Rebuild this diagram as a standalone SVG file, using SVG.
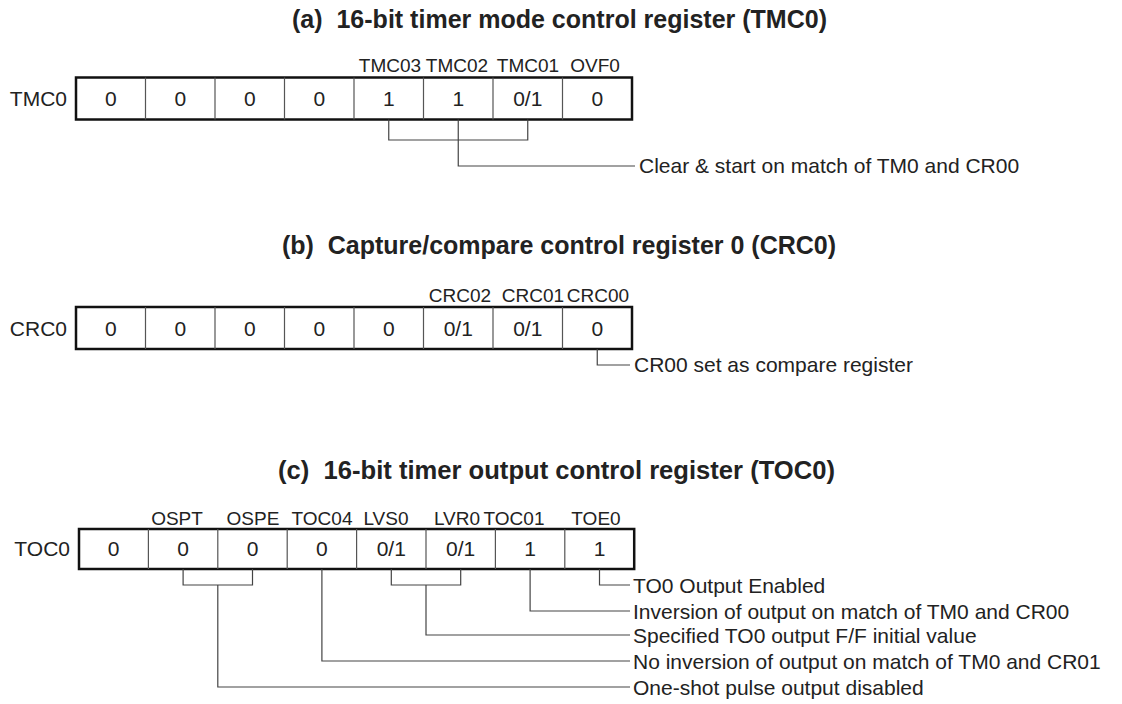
<svg xmlns="http://www.w3.org/2000/svg" width="1122" height="704" viewBox="0 0 1122 704">
<style>
.t{font-family:"Liberation Sans",Arial,sans-serif;font-weight:bold;font-size:25px;fill:#222;white-space:pre}
.v{font-family:"Liberation Sans",Arial,sans-serif;font-size:21px;fill:#222;text-anchor:middle}
.b{font-family:"Liberation Sans",Arial,sans-serif;font-size:19px;fill:#222;text-anchor:middle}
.r{font-family:"Liberation Sans",Arial,sans-serif;font-size:21px;fill:#222;text-anchor:end}
.d{font-family:"Liberation Sans",Arial,sans-serif;font-size:21px;fill:#222}
.box{fill:#fff;stroke:#111;stroke-width:2.5}
.div{stroke:#555;stroke-width:1.2}
.c{fill:none;stroke:#444;stroke-width:1.2}
</style>
<rect width="1122" height="704" fill="#fff"/>

<g id="regA">
<text class="t" xml:space="preserve" x="292" y="28" textLength="535" lengthAdjust="spacingAndGlyphs">(a)  16-bit timer mode control register (TMC0)</text>
<text class="r" x="67" y="106">TMC0</text>
<rect class="box" x="76" y="77.5" width="556" height="42"/>
<path class="div" d="M145.5 77.5V119.5M215 77.5V119.5M284.5 77.5V119.5M354 77.5V119.5M423.5 77.5V119.5M493 77.5V119.5M562.5 77.5V119.5"/>
<text class="b" x="390" y="72">TMC03</text>
<text class="b" x="457" y="72">TMC02</text>
<text class="b" x="528" y="72">TMC01</text>
<text class="b" x="595" y="72">OVF0</text>
<text class="v" x="110.75" y="106">0</text>
<text class="v" x="180.25" y="106">0</text>
<text class="v" x="249.75" y="106">0</text>
<text class="v" x="319.25" y="106">0</text>
<text class="v" x="388.75" y="106">1</text>
<text class="v" x="458.25" y="106">1</text>
<text class="v" x="527.75" y="106">0/1</text>
<text class="v" x="597.25" y="106">0</text>
<text class="d" x="639" y="173">Clear &amp; start on match of TM0 and CR00</text>
</g>

<g id="regB">
<text class="t" xml:space="preserve" x="282" y="254" textLength="554" lengthAdjust="spacingAndGlyphs">(b)  Capture/compare control register 0 (CRC0)</text>
<text class="r" x="67" y="336">CRC0</text>
<rect class="box" x="76" y="307" width="556" height="42"/>
<path class="div" d="M145.5 307V349M215 307V349M284.5 307V349M354 307V349M423.5 307V349M493 307V349M562.5 307V349"/>
<text class="b" x="460" y="302">CRC02</text>
<text class="b" x="533" y="302">CRC01</text>
<text class="b" x="598" y="302">CRC00</text>
<text class="v" x="110.75" y="336">0</text>
<text class="v" x="180.25" y="336">0</text>
<text class="v" x="249.75" y="336">0</text>
<text class="v" x="319.25" y="336">0</text>
<text class="v" x="388.75" y="336">0</text>
<text class="v" x="458.25" y="336">0/1</text>
<text class="v" x="527.75" y="336">0/1</text>
<text class="v" x="597.25" y="336">0</text>
<text class="d" x="634" y="372">CR00 set as compare register</text>
</g>

<g id="regC">
<text class="t" xml:space="preserve" x="278" y="479" textLength="557" lengthAdjust="spacingAndGlyphs">(c)  16-bit timer output control register (TOC0)</text>
<text class="r" x="70" y="556">TOC0</text>
<rect class="box" x="79" y="529" width="555.2" height="40"/>
<path class="div" d="M148.4 529V569M217.8 529V569M287.2 529V569M356.6 529V569M426 529V569M495.4 529V569M564.8 529V569"/>
<text class="b" x="177" y="525">OSPT</text>
<text class="b" x="253" y="525">OSPE</text>
<text class="b" x="322" y="525">TOC04</text>
<text class="b" x="386" y="525">LVS0</text>
<text class="b" x="457" y="525">LVR0</text>
<text class="b" x="514" y="525">TOC01</text>
<text class="b" x="596" y="525">TOE0</text>
<text class="v" x="113.7" y="556">0</text>
<text class="v" x="183.1" y="556">0</text>
<text class="v" x="252.5" y="556">0</text>
<text class="v" x="321.9" y="556">0</text>
<text class="v" x="391.3" y="556">0/1</text>
<text class="v" x="460.7" y="556">0/1</text>
<text class="v" x="530.1" y="556">1</text>
<text class="v" x="599.5" y="556">1</text>
<text class="d" x="633" y="592.5">TO0 Output Enabled</text>
<text class="d" x="633" y="618.5">Inversion of output on match of TM0 and CR00</text>
<text class="d" x="633" y="642.5">Specified TO0 output F/F initial value</text>
<text class="d" x="633" y="668.5">No inversion of output on match of TM0 and CR01</text>
<text class="d" x="633" y="694.5">One-shot pulse output disabled</text>
</g>

<g id="connectors">
<path class="c" d="M388.75 119.5V140H527.75V119.5"/>
<path class="c" d="M458.25 119.5V166H635"/>
<path class="c" d="M597.25 349V365H630"/>
<path class="c" d="M599.5 569V585H630"/>
<path class="c" d="M530.1 569V611H630"/>
<path class="c" d="M391.3 569V585H460.7V569"/>
<path class="c" d="M426 585V635H630"/>
<path class="c" d="M321.9 569V661H630"/>
<path class="c" d="M183.1 569V585H252.5V569"/>
<path class="c" d="M217.8 585V687H630"/>
</g>
</svg>
